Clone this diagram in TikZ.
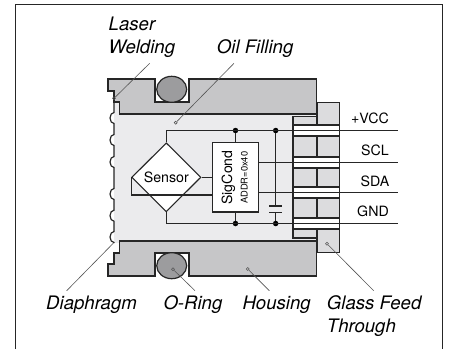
\documentclass[tikz,border=0pt]{standalone}
\usepackage{fontspec}
\setmainfont{TeX Gyre Heros}
\usetikzlibrary{positioning,calc,shapes.geometric}
\definecolor{oilgray}{HTML}{EBEBED}
\definecolor{glassgray}{HTML}{DCDCDE}
\definecolor{housinggray}{HTML}{C6C6C8}
\definecolor{ringgray}{HTML}{9C9C9E}
\definecolor{leadgray}{HTML}{555555}
\tikzset{
  part/.style={draw=black!85,line width=1.2pt},
  wire/.style={draw=black!85,line width=1.1pt},
  leader/.style={draw=leadgray,line width=0.6pt},
  tip/.style={circle,draw=leadgray,line width=0.6pt,inner sep=0pt,minimum size=3pt},
  dot/.style={circle,fill=black,inner sep=0pt,minimum size=5.5pt},
  callout/.style={inner sep=0pt,anchor=base west,align=left,font=\fontsize{18.6}{23}\selectfont\itshape},
  pin/.style={inner sep=0pt,anchor=base,font=\fontsize{14.2}{16}\selectfont},
  bump/.style={start angle=90,end angle=270,x radius=4pt,y radius=5.5pt}
}

\begin{document}
\begin{tikzpicture}[x=1pt,y=-1pt]
\useasboundingbox (0,0) rectangle (449,349);
\draw [draw=black!85,line width=0.9pt] (15.5,349) -- (15.5,4) -- (442,4) -- (442,349);
% oil volume
\fill [oilgray] (114,102) rectangle (317,243);
% glass feed through
\draw [part,fill=glassgray] (293,116.7) rectangle (317,238);
\draw [part,fill=glassgray] (317,102.7) rectangle (339.5,252.7);
\foreach \y in {130.5,162.5,192.5,223.5} {
  \draw [part,fill=white] (293,\y-5.5) rectangle (339.5,\y+5.5);
}
% housing
\draw [part,fill=housinggray] (108,79) -- (155,79) -- (155,102) -- (189,102) -- (189,79) -- (316.7,79)
  -- (316.7,114) -- (119.5,114) -- (119.5,102) -- (114,102) -- (114,91) -- (108,91) -- cycle;
\draw [part,fill=housinggray] (119.5,241) -- (316.7,241) -- (316.7,276) -- (189,276) -- (189,253) -- (155,253)
  -- (155,276) -- (108,276) -- (108,264) -- (114,264) -- (114,253) -- (119.5,253) -- cycle;
\draw [part,fill=ringgray] (171.7,89.3) ellipse [x radius=15pt,y radius=13pt];
\draw [part,fill=ringgray] (171.7,265.7) ellipse [x radius=15pt,y radius=13pt];
% diaphragm
\draw [part] (114,102) -- (114,112.5) arc [bump]
  -- (114,134.5) arc [bump]
  -- (114,156.5) arc [bump]
  -- (114,188.5) arc [bump]
  -- (114,210.2) arc [bump]
  -- (114,231.5) arc [bump] -- (114,243);
% electronics
\node [diamond,draw=black!85,line width=1.1pt,fill=white,inner sep=0pt,minimum width=69.3pt,minimum height=69pt,
  font=\fontsize{14.2}{16}\selectfont] (sensor) at (166.3,177.3) {Sensor};
\node [rectangle,draw=black!85,line width=1.1pt,fill=white,inner sep=0pt,minimum width=46pt,minimum height=69.3pt] (sigcond) at (235.3,177.3) {};
\node [rotate=90,inner sep=0pt,font=\fontsize{14.1}{16}\selectfont] (sigName) at (228.3,177.5) {SigCond};
\node [rotate=90,inner sep=0pt,font=\fontsize{9.3}{11}\selectfont] (sigAddr) at (244.3,177.7) {ADDR=0x40};
\coordinate (vcc) at (398,130.5);
\coordinate (scl) at (398,162.5);
\coordinate (sda) at (398,192.5);
\coordinate (gnd) at (398,223.5);
\coordinate (sensorRet) at (131.7,195);
\coordinate (capA) at (275.7,206);
\coordinate (capB) at (275.7,212.7);
\node [dot] (vccA) at (235.5,130.5) {};
\node [dot] (vccB) at (275.7,130.5) {};
\node [dot] (gndA) at (235.5,223.5) {};
\node [dot] (gndB) at (275.7,223.5) {};
\draw [wire] (sensor.north) |- (vcc);
\draw [wire] (sensor.south) |- (gnd);
\draw [wire] (sensor.east) -- (sigcond.west |- sensor.east);
\draw [wire] (sensor.west) |- (sigcond.west |- sensorRet);
\draw [wire] (sigcond.east |- scl) -- (scl);
\draw [wire] (sigcond.east |- sda) -- (sda);
\draw [wire] (vccA) -- (sigcond.north -| vccA);
\draw [wire] (gndA) -- (sigcond.south -| gndA);
\draw [wire] (vccB) -- (capA);
\draw [wire] (capB) -- (gndB);
\draw [wire] ($(capA)+(-6.7,0)$) -- ($(capA)+(6.7,0)$);
\draw [wire] ($(capB)+(-6.7,0)$) -- ($(capB)+(6.7,0)$);
% pin names
\node [pin] (vccName) at (370,123.3) {+VCC};
\node [pin] (sclName) at (375,155) {SCL};
\node [pin] (sdaName) at (375,186) {SDA};
\node [pin] (gndName) at (373,216.7) {GND};
% callouts
\node [callout] (laser) at (108.5,53) {Laser\\Welding};
\node [callout] (oil) at (216.7,53) {Oil Filling};
\node [callout] (diaphragm) at (46,309) {Diaphragm};
\node [callout] (oring) at (163.3,309) {O-Ring};
\node [callout] (housing) at (242.3,309) {Housing};
\node [callout] (glass) at (326.7,332) {Glass Feed\\Through};
\node [tip] (laserTip) at (114,98.3) {};
\node [tip] (oilTip) at (175.7,122.7) {};
\node [tip] (oringTip) at (173,269.3) {};
\node [tip] (housingTip) at (247.7,269) {};
\node [tip] (glassTip) at (327,243.7) {};
\coordinate (diaphragmTip) at (113.5,243);
\coordinate (laserEnd) at (149.7,63.3);
\coordinate (oilEnd) at (234,63.3);
\coordinate (diaphragmEnd) at (66.7,290.7);
\coordinate (oringEnd) at (195,290.7);
\coordinate (housingEnd) at (269.3,290.7);
\coordinate (glassEnd) at (373.7,290.7);
\draw [leader] (laserEnd) -- (laserTip);
\draw [leader] (oilEnd) -- (oilTip);
\draw [leader] (diaphragmEnd) -- (diaphragmTip);
\draw [leader] (oringEnd) -- (oringTip);
\draw [leader] (housingEnd) -- (housingTip);
\draw [leader] (glassEnd) -- (glassTip);
\end{tikzpicture}
\end{document}
